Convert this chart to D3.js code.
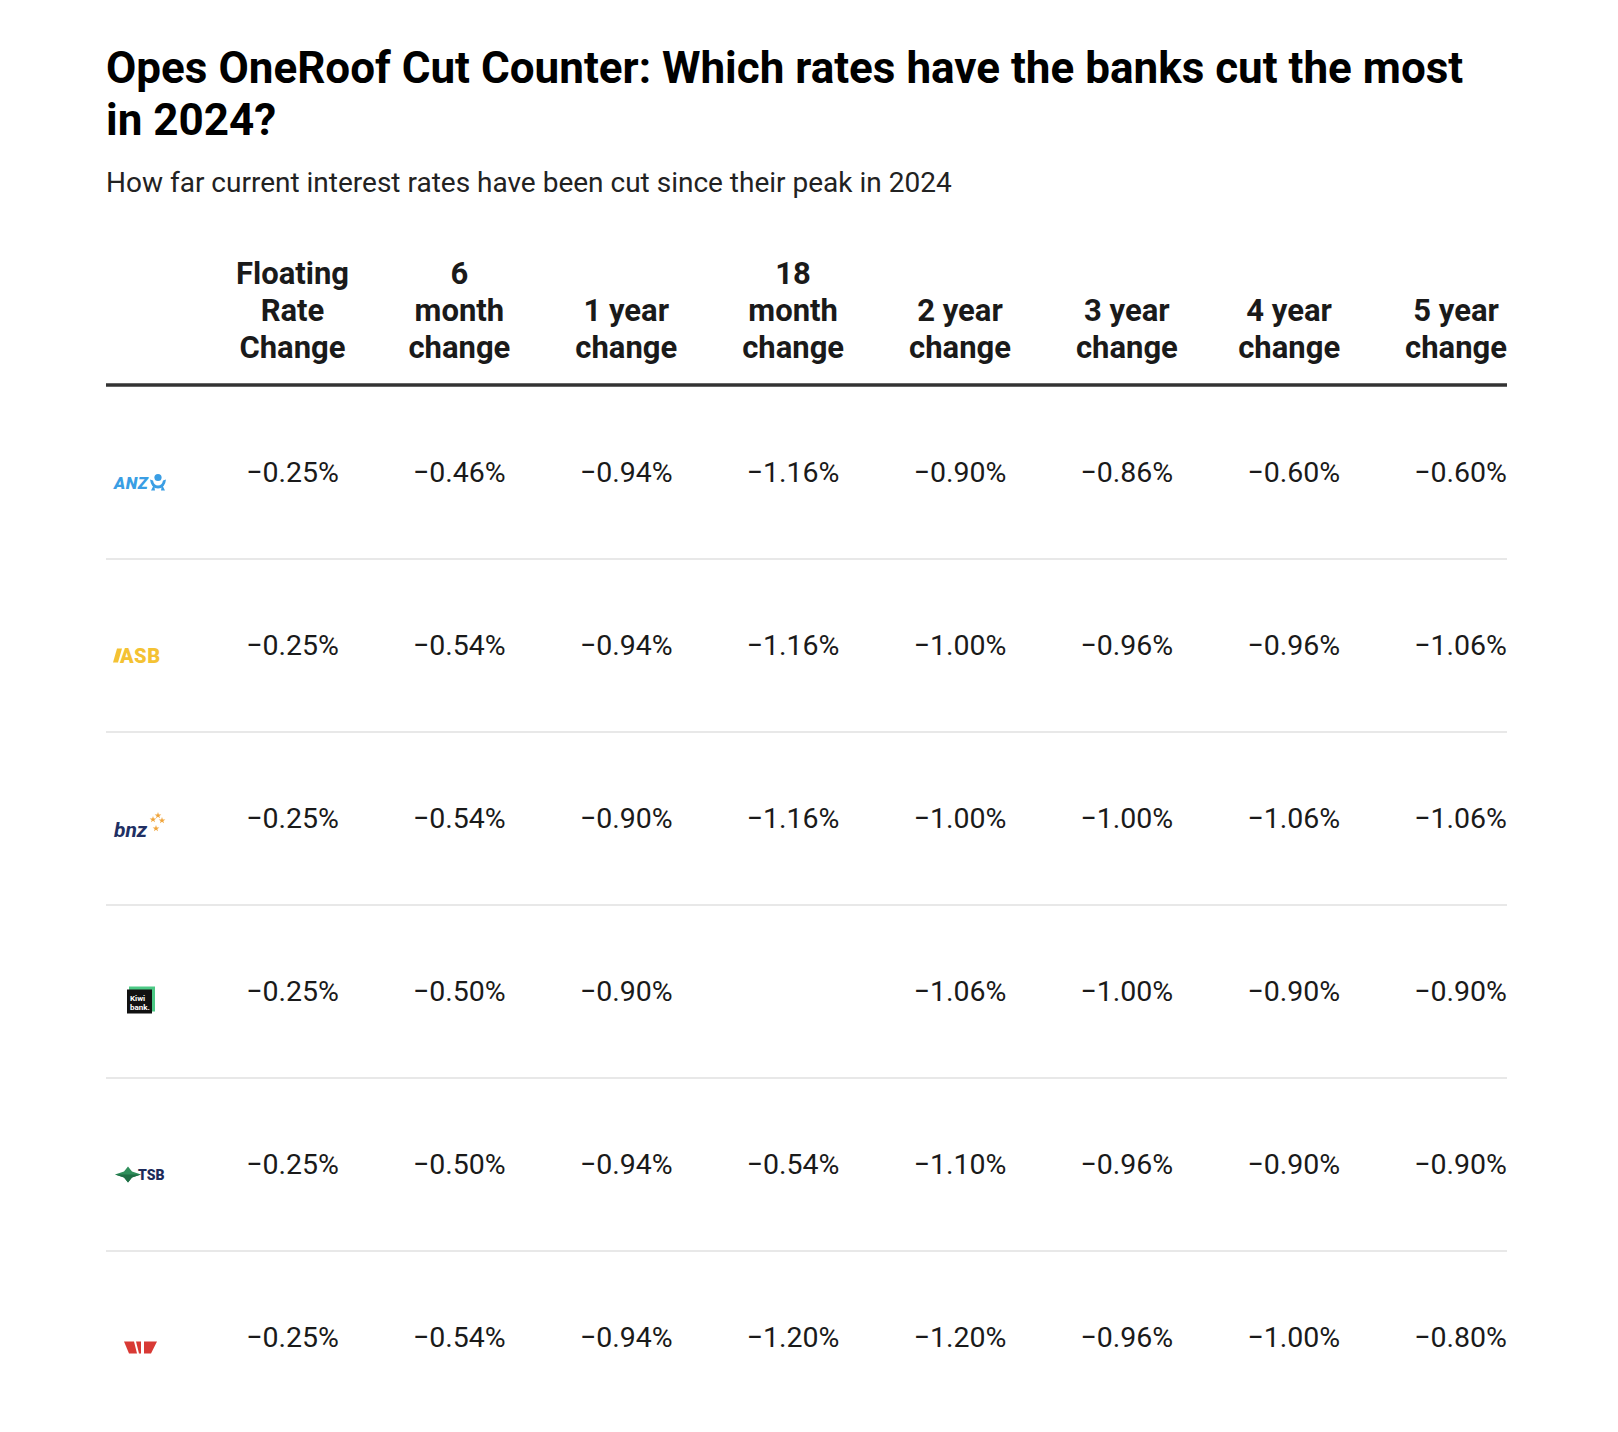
<!DOCTYPE html>
<html><head><meta charset="utf-8">
<script src="https://cdn.jsdelivr.net/npm/d3@7"></script>
<style>
html,body{margin:0;padding:0;background:#fff;}
svg{display:block;font-family:Roboto,"Noto Sans",sans-serif;}
</style></head>
<body>
<svg id="chart" width="1618" height="1432"></svg>
<script>
const titleLines = ["Opes OneRoof Cut Counter: Which rates have the banks cut the most", "in 2024?"];
const subtitle = "How far current interest rates have been cut since their peak in 2024";
const banks = ["ANZ", "ASB", "BNZ", "Kiwibank", "TSB", "Westpac"];
const columns = ["Floating Rate Change", "6 month change", "1 year change", "18 month change", "2 year change", "3 year change", "4 year change", "5 year change"];
const headerLines = [["Floating", "Rate", "Change"], ["6", "month", "change"], ["1 year", "change"], ["18", "month", "change"], ["2 year", "change"], ["3 year", "change"], ["4 year", "change"], ["5 year", "change"]];
const anzCuts      = [-0.25, -0.46, -0.94, -1.16, -0.90, -0.86, -0.60, -0.60];
const asbCuts      = [-0.25, -0.54, -0.94, -1.16, -1.00, -0.96, -0.96, -1.06];
const bnzCuts      = [-0.25, -0.54, -0.90, -1.16, -1.00, -1.00, -1.06, -1.06];
const kiwibankCuts = [-0.25, -0.50, -0.90, null,  -1.06, -1.00, -0.90, -0.90];
const tsbCuts      = [-0.25, -0.50, -0.94, -0.54, -1.10, -0.96, -0.90, -0.90];
const westpacCuts  = [-0.25, -0.54, -0.94, -1.20, -1.20, -0.96, -1.00, -0.80];
const values = [anzCuts, asbCuts, bnzCuts, kiwibankCuts, tsbCuts, westpacCuts];

const svg = d3.select("#chart");
const left = 106, right = 1507;

// Title
svg.append("g").selectAll("text").data(titleLines).join("text")
  .attr("x", left).attr("y", (d, i) => 83 + i * 52)
  .attr("font-size", 44).attr("font-weight", 700).attr("fill", "#000")
  .text(d => d);
svg.append("text").attr("x", left).attr("y", 192)
  .attr("font-size", 28).attr("fill", "#222").text(subtitle);

// Scales
const x = d3.scaleBand().domain(columns).range([172, right]).paddingInner(0).paddingOuter(0);
const headerBottom = 385;
const y = d3.scaleBand().domain(banks).range([headerBottom + 2, headerBottom + 2 + 173 * banks.length]);

const fmt = v => (v < 0 ? "\u2212" : "") + Math.abs(v).toFixed(2) + "%";
const valueFont = 28.5;

// measure a typical value width
const probe = svg.append("text").attr("font-size", valueFont).text(fmt(-0.25));
const valW = probe.node().getComputedTextLength();
probe.remove();

// Header
const hdr = svg.append("g");
columns.forEach((c, ci) => {
  const lines = headerLines[ci];
  const g = hdr.append("g");
  const texts = g.selectAll("text").data(lines).join("text")
    .attr("y", (d, i) => 358 - (lines.length - 1 - i) * 37)
    .attr("font-size", 31).attr("font-weight", 700).attr("fill", "#1a1a1a")
    .attr("text-anchor", "middle").text(d => d);
  let maxW = 0;
  texts.each(function(){ maxW = Math.max(maxW, this.getComputedTextLength()); });
  const end = x(c) + x.bandwidth();
  const cx = ci >= 6 ? end - maxW / 2 : end - valW / 2;
  texts.attr("x", cx);
});
svg.append("line").attr("x1", left).attr("x2", right)
  .attr("y1", headerBottom).attr("y2", headerBottom)
  .attr("stroke", "#333").attr("stroke-width", 3.5);

// Row separators
svg.append("g").selectAll("line").data(banks.slice(0, -1)).join("line")
  .attr("x1", left).attr("x2", right)
  .attr("y1", d => y(d) + y.bandwidth() - 1).attr("y2", d => y(d) + y.bandwidth() - 1)
  .attr("stroke", "#e8e8e8").attr("stroke-width", 2);

// Values
banks.forEach((b, bi) => {
  svg.append("g").selectAll("text").data(values[bi].map((v, ci) => ({v, c: columns[ci]})).filter(d => d.v !== null))
    .join("text")
    .attr("x", d => x(d.c) + x.bandwidth())
    .attr("y", y(b) + y.bandwidth() / 2 + 8)
    .attr("text-anchor", "end").attr("font-size", valueFont).attr("fill", "#1a1a1a")
    .text(d => fmt(d.v));
});

// Logos
function logo(name, g) {
  if (name === "ANZ") {
    g.append("text").attr("x", 0).attr("y", 6).attr("font-size", 17).attr("font-weight", 900)
      .attr("font-style", "italic").attr("fill", "#3a9ee4").attr("letter-spacing", 0.5).text("ANZ");
    g.append("circle").attr("cx", 44).attr("cy", -5).attr("r", 3.6).attr("fill", "#3a9ee4");
    g.append("path").attr("d", "M36,-3 Q37,6 44,6 Q51,6 52,-3 L49,-2 Q48,3 44,3 Q40,3 39,-2 Z").attr("fill", "#3a9ee4");
    g.append("path").attr("d", "M40,2 L37,8 L41,8 Z M48,2 L51,8 L47,8 Z").attr("fill", "#3a9ee4");
  } else if (name === "ASB") {
    g.append("path").attr("d", "M3,-7 L8,-7 L4,7 L-1,7 Z").attr("fill", "#f4c233");
    g.append("text").attr("x", 6).attr("y", 7).attr("font-size", 20).attr("font-weight", 900)
      .attr("fill", "#f4c233").attr("letter-spacing", 0.5).text("ASB");
  } else if (name === "BNZ") {
    g.append("text").attr("x", 0).attr("y", 8).attr("font-size", 21).attr("font-weight", 700)
      .attr("font-style", "italic").attr("fill", "#213063").text("bnz");
    const stars = [[39, -9], [44, -13], [48, -8], [42, 0]];
    g.selectAll("path.s").data(stars).join("path")
      .attr("d", d3.symbol(d3.symbolStar, 14)).attr("transform", d => `translate(${d[0]},${d[1]})`)
      .attr("fill", "#f0a43a");
  } else if (name === "Kiwibank") {
    g.append("rect").attr("x", 15).attr("y", -15).attr("width", 26).attr("height", 25).attr("fill", "#4cc985");
    g.append("rect").attr("x", 13).attr("y", -12).attr("width", 25).attr("height", 24).attr("fill", "#111");
    g.append("text").attr("x", 16).attr("y", -1).attr("font-size", 8).attr("font-weight", 700).attr("fill", "#fff").text("Kiwi");
    g.append("text").attr("x", 16).attr("y", 8).attr("font-size", 8).attr("font-weight", 700).attr("fill", "#fff").text("bank.");
  } else if (name === "TSB") {
    g.append("path").attr("d", "M1,0 L10,-3 L14,-8 L18,-3 L27,0 L18,3 L14,8 L10,3 Z").attr("fill", "#2f8f5b");
    g.append("path").attr("d", "M1,0 L27,0 L18,3 L14,8 L10,3 Z").attr("fill", "#1f6e45");
    g.append("text").attr("x", 24).attr("y", 5).attr("font-size", 14).attr("font-weight", 900)
      .attr("fill", "#1d2b5a").text("TSB");
  } else if (name === "Westpac") {
    g.append("path").attr("d", "M10,-6 L20,-6 L23,6 L15,6 Z").attr("fill", "#d83a35");
    g.append("path").attr("d", "M22,-6 L27,-6 L27,6 L25,6 Z").attr("fill", "#d83a35");
    g.append("path").attr("d", "M30,-6 L43,-6 L37,6 L30,6 Z").attr("fill", "#d83a35");
  }
}
banks.forEach(b => {
  const g = svg.append("g").attr("transform", `translate(114,${y(b) + y.bandwidth() / 2 + 9})`);
  logo(b, g);
});
</script>
</body></html>
